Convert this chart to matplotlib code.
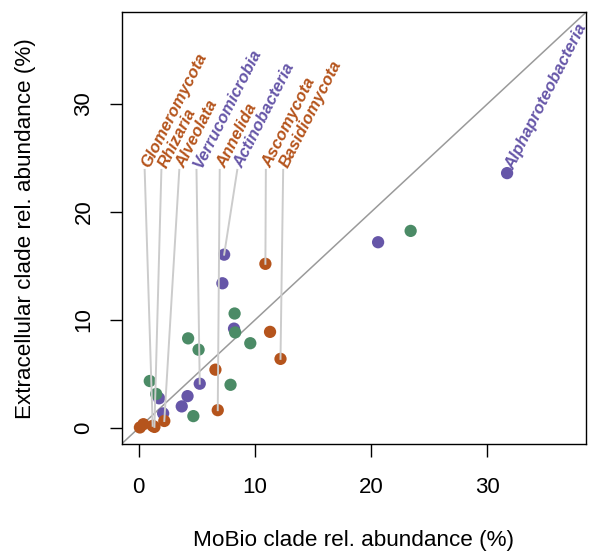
import matplotlib
matplotlib.use("Agg")
import matplotlib.pyplot as plt

plt.rcParams['font.family'] = ['Liberation Sans', 'DejaVu Sans']

ORANGE = "#B5541C"
PURPLE = "#6656A8"
GREEN = "#4B8B66"

# Unlabelled points (MoBio %, Extracellular %)
orange_x = [0.1, 0.4, 6.6, 11.3]
orange_y = [0.05, 0.35, 5.4, 8.9]
purple_x = [7.2, 8.2, 1.75, 4.2, 3.7, 2.1, 20.6]
purple_y = [13.4, 9.2, 2.75, 2.95, 2.0, 1.35, 17.2]
green_x = [8.25, 8.3, 4.25, 5.15, 9.6, 0.95, 7.9, 1.5, 4.7, 23.4]
green_y = [10.6, 8.85, 8.3, 7.25, 7.85, 4.35, 4.0, 3.15, 1.1, 18.25]

# Labelled clades
lab_names = ["Glomeromycota", "Rhizaria", "Alveolata", "Verrucomicrobia",
             "Annelida", "Actinobacteria", "Ascomycota", "Basidiomycota"]
lab_group = ["o", "o", "o", "p", "o", "p", "o", "o"]
lab_px = [1.2, 1.35, 2.2, 5.25, 6.8, 7.35, 10.9, 12.2]
lab_py = [0.2, 0.1, 0.65, 4.1, 1.65, 16.05, 15.2, 6.4]
lab_tx = [0.51, 1.95, 3.49, 4.97, 6.97, 8.48, 10.94, 12.43]
lab_ty = 23.9

alpha_name = "Alphaproteobacteria"
alpha_x, alpha_y = 31.7, 23.6

cols = {"o": ORANGE, "p": PURPLE, "g": GREEN}

fig = plt.figure(figsize=(5.90, 5.54), dpi=100)
ax = fig.add_axes([0.206, 0.1986, 0.787, 0.779])

lim = (-1.48, 38.48)
ax.set_xlim(lim)
ax.set_ylim(lim)

ax.plot([lim[0], lim[1]], [lim[0], lim[1]], color="#9a9a9a", lw=1.1, zorder=1)

S = 78
ax.scatter(orange_x, orange_y, s=S, color=ORANGE, edgecolors="none", zorder=3)
ax.scatter(purple_x, purple_y, s=S, color=PURPLE, edgecolors="none", zorder=3)
ax.scatter(green_x, green_y, s=S, color=GREEN, edgecolors="none", zorder=3)
ax.scatter(lab_px, lab_py, s=S, color=[cols[g] for g in lab_group],
           edgecolors="none", zorder=3)
ax.scatter([alpha_x], [alpha_y], s=S, color=PURPLE, edgecolors="none", zorder=3)

for name, g, px, py, tx in zip(lab_names, lab_group, lab_px, lab_py, lab_tx):
    ax.plot([tx, px], [lab_ty, py], color="#cccccc", lw=1.4, zorder=4)
    ax.text(tx + 0.1, lab_ty + 0.3, name, rotation=63, rotation_mode="anchor",
            ha="left", va="center", color=cols[g], fontsize=12,
            fontweight="bold", fontstyle="italic", zorder=5)

ax.text(alpha_x + 0.2, alpha_y + 0.4, alpha_name, rotation=63, rotation_mode="anchor",
        ha="left", va="center", color=PURPLE, fontsize=12,
        fontweight="bold", fontstyle="italic", zorder=5)

ticks = [0, 10, 20, 30]
ax.set_xticks(ticks)
ax.set_yticks(ticks)
ax.set_xticklabels([str(t) for t in ticks])
ax.set_yticklabels([str(t) for t in ticks], rotation=90, va="center")
ax.tick_params(axis="both", direction="out", length=9, width=1.0,
               labelsize=16, color="black")
ax.tick_params(axis="x", pad=15)
ax.tick_params(axis="y", pad=10.5)
for sp in ax.spines.values():
    sp.set_linewidth(1.0)

ax.set_xlabel("MoBio clade rel. abundance (%)", fontsize=16.2, labelpad=23)
ax.set_ylabel("Extracellular clade rel. abundance (%)", fontsize=16.2, labelpad=27)

fig.savefig("out.png", dpi=100)
